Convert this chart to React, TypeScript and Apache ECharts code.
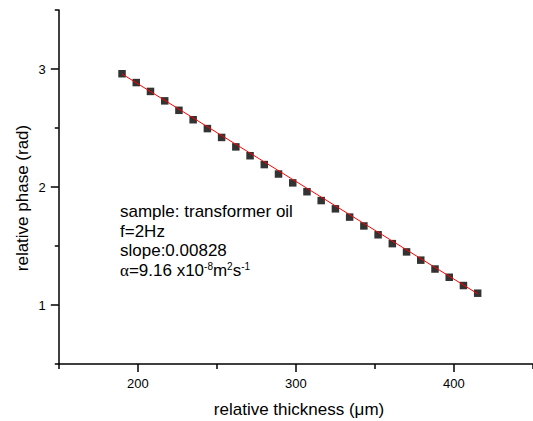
import React, { useEffect, useRef } from "react";
import * as echarts from "echarts";

const thickness = [190, 199, 208, 217, 226, 235, 244, 253, 262, 271, 280, 289, 298, 307, 316, 325, 334, 343, 352, 361, 370, 379, 388, 397, 406, 415];
const phase = [2.96, 2.885, 2.81, 2.73, 2.65, 2.57, 2.495, 2.42, 2.34, 2.265, 2.19, 2.11, 2.035, 1.96, 1.885, 1.815, 1.745, 1.67, 1.595, 1.52, 1.45, 1.38, 1.305, 1.235, 1.165, 1.1];
const fitX = [190, 415];
const fitY = [2.958, 1.095];
const xMajor = [200, 300, 400];
const xMinor = [150, 250, 350, 450];
const yMajor = [1, 2, 3];
const yMinor = [0.5, 1.5, 2.5, 3.5];
const infoLines = ["sample: transformer oil", "f=2Hz", "slope:0.00828"];

const FONT = "'Liberation Sans', Arial, sans-serif";

export default function App() {
  const ref = useRef<HTMLDivElement>(null);
  useEffect(() => {
    if (!ref.current) return;
    const chart = echarts.init(ref.current, undefined, { renderer: "svg" });
    const gridPos = { left: 58.8, top: 10, bottom: 57, right: -7.3 };
    const axisLine = { lineStyle: { color: "#000", width: 1.5 } };
    const textY = [211.5, 231, 250.5];
    chart.setOption({
      animation: false,
      backgroundColor: "#fff",
      grid: [gridPos, gridPos],
      xAxis: [
        {
          type: "value", gridIndex: 0, min: 150, max: 450, interval: 50,
          axisLine: { show: true, onZero: false, ...axisLine },
          axisTick: { show: true, length: 8, customValues: xMajor, lineStyle: { color: "#000", width: 1.5 } },
          axisLabel: { customValues: xMajor, margin: 13, color: "#000", fontSize: 13, fontFamily: FONT },
          splitLine: { show: false },
        },
        {
          type: "value", gridIndex: 1, min: 150, max: 450, interval: 50,
          axisLine: { show: false, onZero: false },
          axisTick: { show: true, length: 5, customValues: xMinor, lineStyle: { color: "#000", width: 1.5 } },
          axisLabel: { show: false },
          splitLine: { show: false },
        },
      ],
      yAxis: [
        {
          type: "value", gridIndex: 0, min: 0.5, max: 3.5, interval: 0.5,
          axisLine: { show: true, onZero: false, ...axisLine },
          axisTick: { show: true, length: 8, customValues: yMajor, lineStyle: { color: "#000", width: 1.5 } },
          axisLabel: { customValues: yMajor, margin: 13, color: "#000", fontSize: 13, fontFamily: FONT },
          splitLine: { show: false },
        },
        {
          type: "value", gridIndex: 1, min: 0.5, max: 3.5, interval: 0.5,
          axisLine: { show: false, onZero: false },
          axisTick: { show: true, length: 4, customValues: yMinor, lineStyle: { color: "#000", width: 1.5 } },
          axisLabel: { show: false },
          splitLine: { show: false },
        },
      ],
      series: [
        {
          type: "scatter", xAxisIndex: 0, yAxisIndex: 0,
          data: thickness.map((x, i) => [x, phase[i]]),
          symbol: "rect", symbolSize: 7.5,
          itemStyle: { color: "#000" },
          z: 2,
        },
        {
          type: "line", xAxisIndex: 0, yAxisIndex: 0,
          data: fitX.map((x, i) => [x, fitY[i]]),
          showSymbol: false, symbol: "none",
          lineStyle: { color: "#ff0000", width: 1 },
          z: 3,
        },
      ],
      graphic: [
        ...infoLines.map((t, i) => ({
          type: "text", x: 120, y: textY[i],
          style: { text: t, fill: "#000", font: `17px ${FONT}`, verticalAlign: "middle", align: "left" },
        })),
        {
          type: "text", x: 120, y: 270,
          style: {
            text: "{a|α}{n|=9.16 x10}{s|-8}{n|m}{s|2}{n|s}{s|-1}",
            verticalAlign: "middle", align: "left", fill: "#000",
            rich: {
              a: { fontSize: 17, fontFamily: "'Liberation Serif', serif", fill: "#000", verticalAlign: "bottom" },
              n: { fontSize: 17, fontFamily: FONT, fill: "#000", verticalAlign: "bottom" },
              s: { fontSize: 10, fontFamily: FONT, fill: "#000", verticalAlign: "top" },
            },
          },
        },
        {
          type: "text", x: 299, y: 409,
          style: { text: "relative thickness (μm)", fill: "#000", font: `17px ${FONT}`, align: "center", verticalAlign: "middle" },
        },
        {
          type: "text", x: 22, y: 198, rotation: Math.PI / 2,
          style: { text: "relative phase (rad)", fill: "#000", font: `17px ${FONT}`, align: "center", verticalAlign: "middle" },
        },
      ],
    });
    return () => chart.dispose();
  }, []);
  return <div ref={ref} style={{ width: 533, height: 421, position: "absolute", left: 0, top: 0 }} />;
}
